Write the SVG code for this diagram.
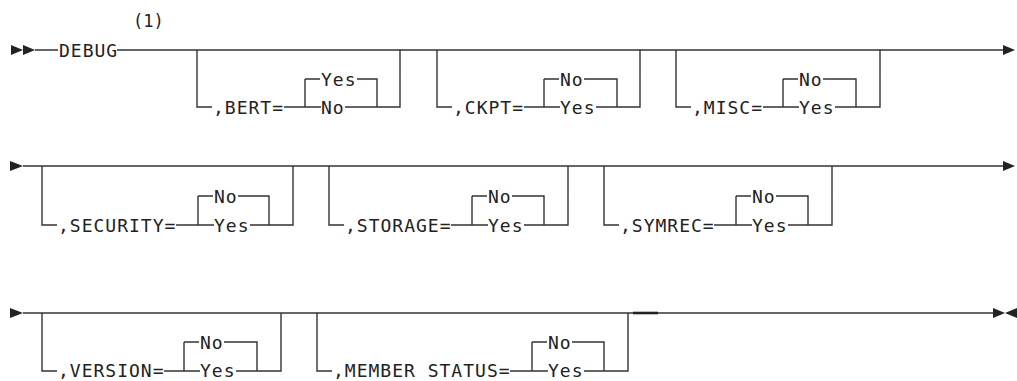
<svg xmlns="http://www.w3.org/2000/svg" width="1017" height="381" viewBox="0 0 1017 381">
<style>
.ln{fill:none;stroke:#333;stroke-width:1.4}
.ar{fill:#222;stroke:none}
.t{font-family:"DejaVu Sans Mono","Liberation Mono",monospace;font-size:18px;letter-spacing:1px;fill:#222}
.n{font-family:"DejaVu Sans Mono","Liberation Mono",monospace;font-size:17px;fill:#222}
</style>
<rect width="1017" height="381" fill="#fff"/>
<g id="connectors">
<path class="ln" d="M35 50H58M117 50H1003"/>
<path class="ln" d="M23 166H1003"/>
<path class="ln" d="M23 313H993"/>
<path d="M633 313H658" fill="none" stroke="#222" stroke-width="2.6"/>
<polygon class="ar" points="11,45 23,50 11,55"/>
<polygon class="ar" points="23,45 35,50 23,55"/>
<polygon class="ar" points="1003,45 1015,50 1003,55"/>
<polygon class="ar" points="10,161 23,166 10,171"/>
<polygon class="ar" points="1003,161 1015,166 1003,171"/>
<polygon class="ar" points="10,308 23,313 10,318"/>
<polygon class="ar" points="993,308 1005,313 993,318"/>
<polygon class="ar" points="1017,308 1005,313 1017,318"/>
</g>
<g id="debug">
<text class="t" x="59" y="56.5">DEBUG</text>
<text class="n" x="133" y="27">(1)</text>
</g>
<g id="bert">
<path class="ln" d="M197 50V107H212M284 107H321M305 79V107M305 79H320M357 79H377V107M345 107H400V50"/>
<text class="t" x="213" y="113.5">,BERT=</text>
<text class="t" x="321" y="85.5">Yes</text>
<text class="t" x="321" y="113.5">No</text>
</g>
<g id="ckpt">
<path class="ln" d="M437 50V107H452M524 107H560M544 79V107M544 79H559M584 79H617V107M596 107H640V50"/>
<text class="t" x="453" y="113.5">,CKPT=</text>
<text class="t" x="560" y="85.5">No</text>
<text class="t" x="560" y="113.5">Yes</text>
</g>
<g id="misc">
<path class="ln" d="M676 50V107H691M763 107H799M783 79V107M783 79H798M823 79H856V107M835 107H880V50"/>
<text class="t" x="692" y="113.5">,MISC=</text>
<text class="t" x="799" y="85.5">No</text>
<text class="t" x="799" y="113.5">Yes</text>
</g>
<g id="security">
<path class="ln" d="M42 166V225H57M176 225H214M198 196V225M198 196H213M238 196H269V225M250 225H293V166"/>
<text class="t" x="58" y="231.5">,SECURITY=</text>
<text class="t" x="214" y="202.5">No</text>
<text class="t" x="214" y="231.5">Yes</text>
</g>
<g id="storage">
<path class="ln" d="M329 166V225H344M451 225H488M472 196V225M472 196H487M512 196H544V225M524 225H568V166"/>
<text class="t" x="345" y="231.5">,STORAGE=</text>
<text class="t" x="488" y="202.5">No</text>
<text class="t" x="488" y="231.5">Yes</text>
</g>
<g id="symrec">
<path class="ln" d="M604 166V225H619M714 225H752M736 196V225M736 196H751M776 196H808V225M788 225H832V166"/>
<text class="t" x="620" y="231.5">,SYMREC=</text>
<text class="t" x="752" y="202.5">No</text>
<text class="t" x="752" y="231.5">Yes</text>
</g>
<g id="version">
<path class="ln" d="M42 313V371H57M164 371H200M184 342V371M184 342H199M224 342H257V371M236 371H281V313"/>
<text class="t" x="58" y="377">,VERSION=</text>
<text class="t" x="200" y="348.5">No</text>
<text class="t" x="200" y="377">Yes</text>
</g>
<g id="member-status">
<path class="ln" d="M317 313V371H332M510 371H548M532 342V371M532 342H547M572 342H604V371M584 371H628V313"/>
<text class="t" x="333" y="377">,MEMBER STATUS=</text>
<text class="t" x="548" y="348.5">No</text>
<text class="t" x="548" y="377">Yes</text>
</g>
</svg>
